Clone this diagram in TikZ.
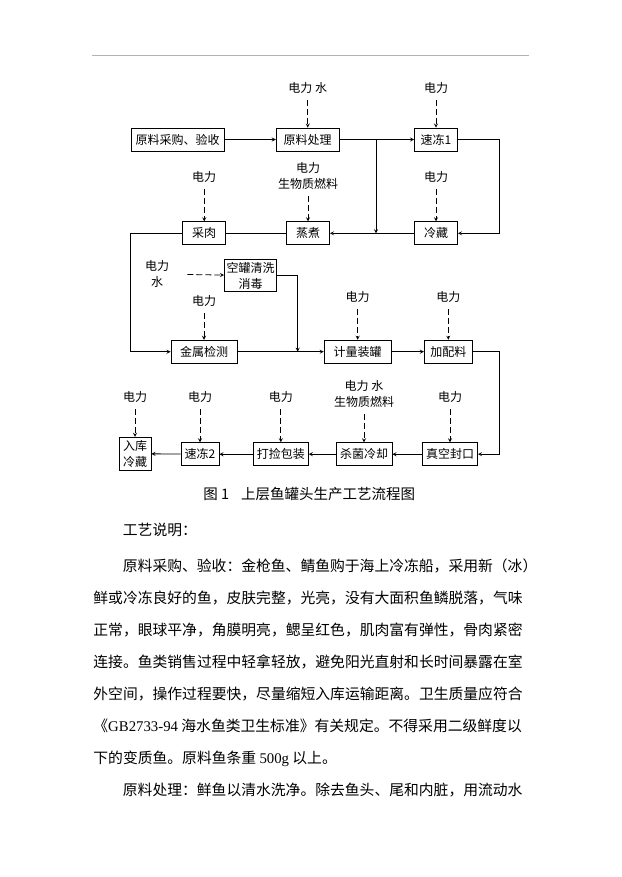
\documentclass[tikz,border=0pt]{standalone}
\usepackage{fontspec}
\setmainfont{Noto Sans CJK SC}
\newfontfamily\latinserif{Liberation Serif}
\usetikzlibrary{positioning, arrows, arrows.meta}

\begin{document}
\begin{tikzpicture}[>=stealth, x=1pt, y=-1pt, line width=0.8pt,
		proc/.style={draw, rectangle, minimum height=23pt, inner sep=0pt, font=\fontsize{12}{16}\selectfont},
		supply/.style={inner sep=2pt, align=center, font=\fontsize{12}{16}\selectfont},
		feed/.style={->, dash pattern=on 6pt off 3pt, shorten <=4pt},
		body/.style={anchor=base west, inner sep=0pt, font=\fontsize{14.8}{18}\selectfont}]
		\path[fill=white] (0,0) rectangle (621,877);
		\draw[black!30, line width=1pt] (92,56) -- (529,56);
		% process steps
		\node[proc, minimum width=93pt] (cg) at (177.5,139.5) {原料采购、验收};
		\node[proc, minimum width=63pt] (cl) at (307.7,139.5) {原料处理};
		\node[proc, minimum width=43pt] (sd1) at (436,139.5) {速冻1};
		\node[proc, minimum width=43pt] (cr) at (204.2,233.3) {采肉};
		\node[proc, minimum width=43pt] (zz) at (308,233.3) {蒸煮};
		\node[proc, minimum width=43pt] (lc) at (436,233.3) {冷藏};
		\node[proc, minimum width=52pt, minimum height=32pt, align=center] (kg) at (250.5,275.5) {空罐清洗\\消毒};
		\node[proc, minimum width=66pt] (js) at (204,351.7) {金属检测};
		\node[proc, minimum width=67pt] (jl) at (357.7,351.7) {计量装罐};
		\node[proc, minimum width=48pt] (jp) at (448.3,351.7) {加配料};
		\node[proc, minimum width=55pt] (zk) at (450,454.2) {真空封口};
		\node[proc, minimum width=56pt] (sj) at (364,454.2) {杀菌冷却};
		\node[proc, minimum width=55pt] (db) at (280.8,454.2) {打捡包装};
		\node[proc, minimum width=38pt] (sd2) at (200,454.2) {速冻2};
		\node[proc, minimum width=32pt, minimum height=33pt, align=center] (rk) at (135,453.7) {入库\\冷藏};
		% energy and water
		\node[supply] (s1) at (307.7,88) {电力 水};
		\node[supply] (s2) at (436,88) {电力};
		\node[supply] (s3) at (204.2,177) {电力};
		\node[supply] (s4) at (308,176) {电力\\生物质燃料};
		\node[supply] (s5) at (436,177) {电力};
		\node[supply] (s6) at (157,274) {电力\\水};
		\node[supply] (s7) at (204,301) {电力};
		\node[supply] (s8) at (357.7,297) {电力};
		\node[supply] (s9) at (448.3,297) {电力};
		\node[supply] (s10) at (135,397) {电力};
		\node[supply] (s11) at (200,397) {电力};
		\node[supply] (s12) at (280.8,397) {电力};
		\node[supply] (s13) at (364,394) {电力 水\\生物质燃料};
		\node[supply] (s14) at (450,397) {电力};
		\draw[feed] (s1) -- (cl);
		\draw[feed] (s2) -- (sd1);
		\draw[feed] (s3) -- (cr);
		\draw[feed] (s4) -- (zz);
		\draw[feed] (s5) -- (lc);
		\draw[feed, shorten <=16pt] (s6) -- (kg);
		\draw[feed] (s7) -- (js);
		\draw[feed] (s8) -- (jl);
		\draw[feed] (s9) -- (jp);
		\draw[feed] (s10) -- (rk);
		\draw[feed] (s11) -- (sd2);
		\draw[feed] (s12) -- (db);
		\draw[feed] (s13) -- (sj);
		\draw[feed] (s14) -- (zk);
		% flow
		\coordinate (b1) at (376,139.5);
		\coordinate (b2) at (376,233.3);
		\coordinate (r1) at (499.3,139.5);
		\coordinate (l1) at (130,233.3);
		\coordinate (k1) at (297.7,275.5);
		\coordinate (k2) at (297.7,351.7);
		\coordinate (r2) at (499.3,351.7);
		\draw[->] (cg) -- (cl);
		\draw[->] (cl) -- (sd1);
		\draw[->] (b1) -- (b2);
		\draw[->] (sd1) -- (r1) |- (lc);
		\draw[->] (lc) -- (zz);
		\draw (zz) -- (cr);
		\draw[->] (cr) -- (l1) |- (js);
		\draw[->] (kg) -- (k1) -- (k2);
		\draw[->] (js) -- (jl);
		\draw[->] (jl) -- (jp);
		\draw[->] (jp) -- (r2) |- (zk);
		\draw[->] (zk) -- (sj);
		\draw[->] (sj) -- (db);
		\draw[->] (db) -- (sd2);
		\draw[->] (sd2) -- (rk);
		\node[anchor=base west, inner sep=0pt, font=\fontsize{14.5}{16}\selectfont] (cap) at (203,499) {图 1\hspace{12pt}上层鱼罐头生产工艺流程图};
		% notes
		\node[body] (t0) at (122.5,535.6) {工艺说明：};
		\node[body] (t1) at (122.5,571.6) {原料采购、验收：金枪鱼、鲭鱼购于海上冷冻船，采用新（冰）};
		\node[body] (t2) at (93,603.6) {鲜或冷冻良好的鱼，皮肤完整，光亮，没有大面积鱼鳞脱落，气味};
		\node[body] (t3) at (93,635.6) {正常，眼球平净，角膜明亮，鳃呈红色，肌肉富有弹性，骨肉紧密};
		\node[body] (t4) at (93,667.6) {连接。鱼类销售过程中轻拿轻放，避免阳光直射和长时间暴露在室};
		\node[body] (t5) at (93,699.6) {外空间，操作过程要快，尽量缩短入库运输距离。卫生质量应符合};
		\node[body] (t6) at (93,731.6) {《{\latinserif GB2733-94} 海水鱼类卫生标准》有关规定。不得采用二级鲜度以};
		\node[body] (t7) at (93,763.6) {下的变质鱼。原料鱼条重 {\latinserif 500g} 以上。};
		\node[body] (t8) at (122.5,795.6) {原料处理：鲜鱼以清水洗净。除去鱼头、尾和内脏，用流动水};
\end{tikzpicture}
\end{document}
